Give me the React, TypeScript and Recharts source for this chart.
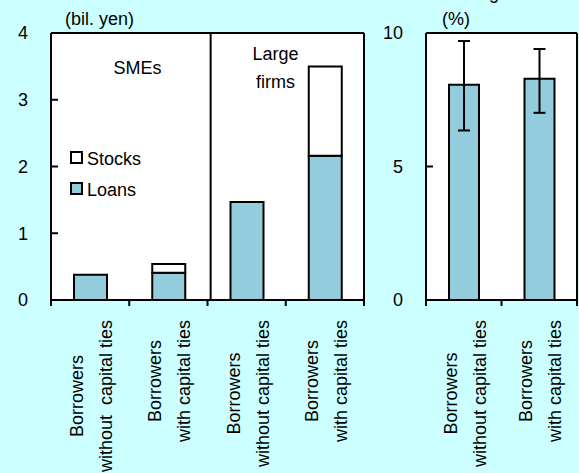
import React from 'react';
import { BarChart, Bar, XAxis, YAxis, CartesianGrid, Legend, ErrorBar } from 'recharts';

const FONT = '"Liberation Sans", Arial, sans-serif';
const BLUE = '#93CDDD';
const BG = '#CCFFFF';

// left panel, amounts in bil. yen
const leftLabels = [
  ['Borrowers', 'without  capital ties'],
  ['Borrowers', 'with capital ties'],
  ['Borrowers', 'without capital ties'],
  ['Borrowers', 'with capital ties'],
];
const loans = [0.38, 0.41, 1.47, 2.16];
const stocks = [0, 0.13, 0, 1.34];
const leftTicks = [0, 1, 2, 3, 4];

// right panel, in %
const rightLabels = [
  ['Borrowers', 'without capital ties'],
  ['Borrowers', 'with capital ties'],
];
const rates = [8.06, 8.29];
const rateLow = [6.35, 7.01];
const rateHigh = [9.7, 9.4];
const rightTicks = [0, 5, 10];

const leftData = leftLabels.map((lines, i) => ({
  name: 'c' + i,
  lines,
  Loans: loans[i],
  Stocks: stocks[i],
}));

const rightData = rightLabels.map((lines, i) => ({
  name: 'r' + i,
  lines,
  rate: rates[i],
  err: [rates[i] - rateLow[i], rateHigh[i] - rates[i]],
}));

let ctx: CanvasRenderingContext2D | null = null;
const textWidth = (s: string) => {
  if (!ctx) ctx = document.createElement('canvas').getContext('2d');
  if (!ctx) return s.length * 9;
  ctx.font = '18px ' + FONT;
  return ctx.measureText(s).width;
};

// two rotated lines under each category, plus tick marks on the band edges
const RotatedTick = (props: any) => {
  const { payload, rows } = props;
  const x = Number(props.x);
  const y = Number(props.y);
  const idx = rows.findIndex((d: any) => d.name === payload.value);
  if (idx < 0) return null;
  const half = Number(props.width) / rows.length / 2;
  const maxLen = Math.max(...rows[idx].lines.map(textWidth));
  const mid = -(20 + maxLen / 2);
  const edges = idx === rows.length - 1 ? [x - half, x + half] : [x - half];
  return (
    <g>
      {edges.map((ex, i) => (
        <rect key={'t' + i} x={ex - 1} y={y} width={2} height={6} fill="#000" stroke="none" />
      ))}
      <g transform={`translate(${x},${y}) rotate(-90)`}>
        {rows[idx].lines.map((t: string, i: number) => (
          <text key={i} x={mid} y={i === 0 ? -7 : 22} textAnchor="middle" fill="#000" stroke="none"
            style={{ whiteSpace: 'pre', fontSize: 18, fontFamily: FONT }}>
            {t}
          </text>
        ))}
      </g>
    </g>
  );
};

const LegendBox = (props: any) => {
  const items = [...(props.payload || [])].reverse();
  return (
    <div style={{ fontFamily: FONT, fontSize: 18, color: '#000' }}>
      {items.map((it: any) => (
        <div key={it.value} style={{ position: 'relative', height: 31, width: 80 }}>
          <span style={{
            position: 'absolute', left: 0, top: 2, width: 13, height: 13, boxSizing: 'border-box',
            border: '2px solid #000', background: it.value === 'Stocks' ? '#fff' : BLUE,
          }} />
          <span style={{ position: 'absolute', left: 17, top: 0, lineHeight: '21px' }}>{it.value}</span>
        </div>
      ))}
    </div>
  );
};

const axisText = { fontSize: 18, fontFamily: FONT, fill: '#000' };
const line = { stroke: '#000', strokeWidth: 2 };

// frame lines (and the SMEs / large firms divider on the left panel)
const frameH = ({ offset }: any) => [offset.top, offset.top + offset.height];
const frameV = ({ offset }: any) => [offset.left, offset.left + offset.width];
const frameVSplit = ({ offset }: any) => [offset.left, offset.left + offset.width * 0.51, offset.left + offset.width];

export default function App() {
  return (
    <div style={{
      position: 'absolute', left: 0, top: 0, width: 579, height: 473,
      background: BG, overflow: 'hidden', fontFamily: FONT,
    }}>
      <div style={{
        position: 'absolute', right: 80, top: -16, fontSize: 18, lineHeight: '18px', whiteSpace: 'nowrap',
      }}>Lending</div>

      <div style={{ position: 'absolute', left: 0, top: 0 }}>
        <BarChart width={370} height={473} data={leftData}
          margin={{ top: 33, right: 6, bottom: 23, left: 0 }} barSize={33}>
          <CartesianGrid fill="#fff" stroke="#000" strokeWidth={2}
            horizontalCoordinatesGenerator={frameH} verticalCoordinatesGenerator={frameVSplit} />
          <XAxis dataKey="name" height={150} axisLine={line} tickLine={false} tickSize={0} tickMargin={0}
            interval={0} tick={<RotatedTick rows={leftData} />} />
          <YAxis domain={[0, 4]} ticks={leftTicks} width={51} tickSize={-7} tickMargin={30}
            tick={axisText} tickLine={line} axisLine={line}
            label={(p: any) => (
              <text x={p.viewBox.x + p.viewBox.width + 14} y={p.viewBox.y - 8} style={axisText}>(bil. yen)</text>
            )} />
          <Legend layout="vertical" align="center" verticalAlign="middle" content={<LegendBox />}
            wrapperStyle={{ position: 'absolute', left: 70, top: 149, width: 90 }} />
          <Bar dataKey="Loans" stackId="a" fill={BLUE} stroke="#000" strokeWidth={2} isAnimationActive={false} />
          <Bar dataKey="Stocks" stackId="a" fill="#fff" stroke="#000" strokeWidth={2} isAnimationActive={false} />
          <text x={137.5} y={74} textAnchor="middle" style={axisText}>SMEs</text>
          <text x={275.5} y={60} textAnchor="middle" style={axisText}>Large</text>
          <text x={275.5} y={88} textAnchor="middle" style={axisText}>firms</text>
        </BarChart>
      </div>

      <div style={{ position: 'absolute', left: 370, top: 0 }}>
        <BarChart width={209} height={473} data={rightData}
          margin={{ top: 33, right: 2, bottom: 23, left: 0 }} barSize={30}>
          <CartesianGrid fill="#fff" stroke="#000" strokeWidth={2}
            horizontalCoordinatesGenerator={frameH} verticalCoordinatesGenerator={frameV} />
          <XAxis dataKey="name" height={150} axisLine={line} tickLine={false} tickSize={0} tickMargin={0}
            interval={0} tick={<RotatedTick rows={rightData} />} />
          <YAxis domain={[0, 10]} ticks={rightTicks} width={56} tickSize={-7} tickMargin={30}
            tick={axisText} tickLine={line} axisLine={line}
            label={(p: any) => (
              <text x={p.viewBox.x + p.viewBox.width + 16} y={p.viewBox.y - 8} style={axisText}>(%)</text>
            )} />
          <Bar dataKey="rate" fill={BLUE} stroke="#000" strokeWidth={2} isAnimationActive={false}>
            <ErrorBar dataKey="err" width={6} stroke="#000" strokeWidth={2} direction="y" />
          </Bar>
        </BarChart>
      </div>
    </div>
  );
}
